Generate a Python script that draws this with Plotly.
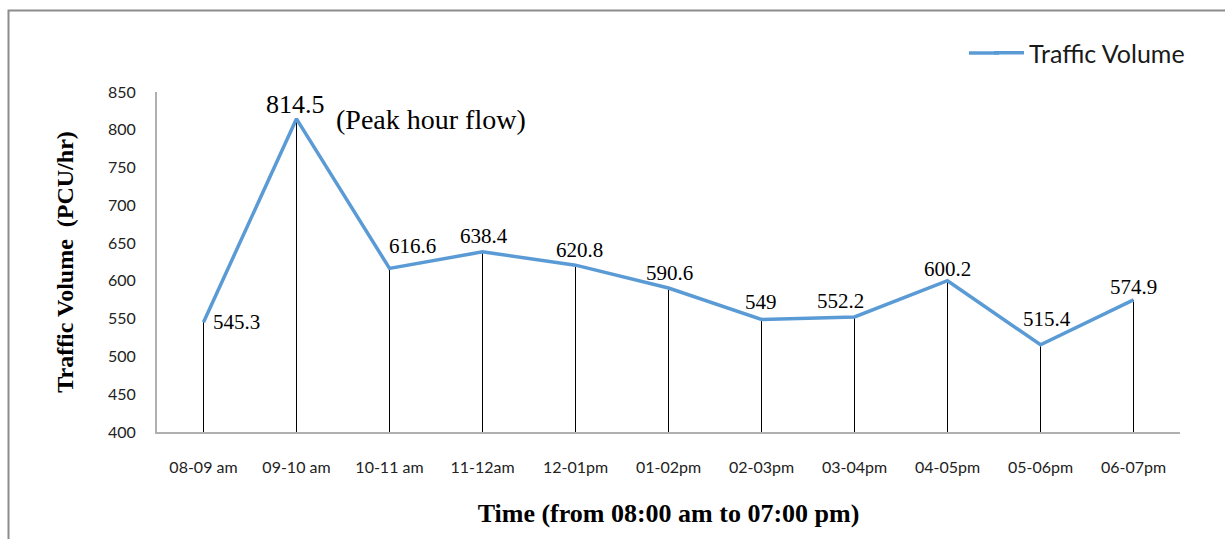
import plotly.graph_objects as go

# Hourly traffic counts
time_slots = ["08-09 am", "09-10 am", "10-11 am", "11-12am", "12-01pm", "01-02pm",
              "02-03pm", "03-04pm", "04-05pm", "05-06pm", "06-07pm"]
traffic_volume = [545.3, 814.5, 616.6, 638.4, 620.8, 590.6, 549, 552.2, 600.2, 515.4, 574.9]
y_ticks = [400, 450, 500, 550, 600, 650, 700, 750, 800, 850]
y_base = 400
peak_note = "(Peak hour flow)"

# label nudges (px) so each value sits clear of the line
label_dx = [33, -1, 23, 1, 4, 1, -1, -14, 0, 6, 0]
label_dy = [0, 14, 22, 16, 15, 15, 17, 16, 12, 26, 13]
label_size = [21, 26, 21, 21, 21, 21, 21, 21, 21, 21, 21]

ML, MR, MT, MB = 157, 45, 92, 107
W, H = 1225, 539
pw, ph = W - ML - MR, H - MT - MB
LINE_COLOR = "#5B9BD5"

fig = go.Figure()
fig.add_trace(go.Scatter(
    x=time_slots, y=traffic_volume, mode="lines", name="Traffic Volume",
    line=dict(color=LINE_COLOR, width=3.5),
    error_y=dict(type="data", symmetric=False,
                 array=[0] * len(traffic_volume),
                 arrayminus=[v - y_base for v in traffic_volume],
                 color="black", thickness=1, width=0),
    hoverinfo="x+y",
))

annotations = []
for i, (cat, v) in enumerate(zip(time_slots, traffic_volume)):
    annotations.append(dict(
        x=cat, y=v, xref="x", yref="y", text=f"{v:g}", showarrow=False,
        xanchor="center", yanchor="middle",
        xshift=label_dx[i], yshift=label_dy[i],
        font=dict(family="Liberation Serif", size=label_size[i], color="black"),
    ))
peak_i = traffic_volume.index(max(traffic_volume))
annotations.append(dict(
    x=time_slots[peak_i], y=traffic_volume[peak_i], xref="x", yref="y",
    text=peak_note, showarrow=False, xanchor="left", yanchor="middle",
    xshift=37, yshift=-1,
    font=dict(family="Liberation Serif", size=28, color="black"),
))

# outer frame (left and top edges)
fl = (8.5 - ML) / pw
ft = 1 + (MT - 10.5) / ph
fr = (W + 2 - ML) / pw
fb = -(MB + 5) / ph
shapes = [dict(type="path", xref="paper", yref="paper",
               path=f"M {fl},{fb} L {fl},{ft} L {fr},{ft}",
               line=dict(color="#8c8c8c", width=2))]

# longer legend swatch: extend the legend line to the left
leg_y = 1 + (MT - 53) / ph
shapes.append(dict(type="line", xref="paper", yref="paper",
                   x0=(969 - ML) / pw, x1=(999 - ML) / pw, y0=leg_y, y1=leg_y,
                   line=dict(color=LINE_COLOR, width=3.5)))

fig.update_layout(
    width=W, height=H,
    margin=dict(l=ML, r=MR, t=MT, b=MB, autoexpand=False),
    paper_bgcolor="white", plot_bgcolor="white",
    showlegend=True,
    legend=dict(x=(989 - ML) / pw, y=1 + (MT - 30) / ph, xanchor="left", yanchor="top",
                font=dict(family="Lato", size=25, color="#1a1a1a"),
                bgcolor="rgba(0,0,0,0)", borderwidth=0),
    annotations=annotations,
    shapes=shapes,
    xaxis=dict(
        range=[-0.5, len(time_slots) - 0.5], showgrid=False, zeroline=False,
        showline=True, linecolor="#b0b0b0", linewidth=2, ticks="",
        tickfont=dict(family="Lato", size=16, color="#222"),
        ticklabelstandoff=20,
        title=dict(text="<b>Time (from 08:00 am to 07:00 pm)</b>", standoff=29,
                   font=dict(family="Liberation Serif", size=26, color="black")),
    ),
    yaxis=dict(
        range=[y_base, 850], tickvals=y_ticks, showgrid=False, zeroline=False,
        showline=True, linecolor="#b0b0b0", linewidth=2, ticks="",
        tickfont=dict(family="Lato", size=16, color="#222"),
        ticklabelstandoff=16,
        title=dict(text="<b>Traffic Volume\u00a0 (PCU/hr)</b>", standoff=28,
                   font=dict(family="Liberation Serif", size=24, color="black")),
    ),
)

fig.write_html("out.html")
